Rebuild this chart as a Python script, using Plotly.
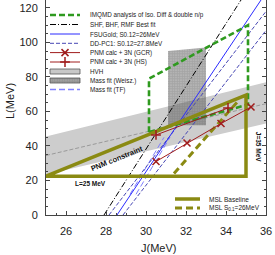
import plotly.graph_objects as go

# ---------------- data ----------------
hvh_J = [25, 36]
hvh_lo = [23.5, 53.0]
hvh_hi = [45.5, 77.0]
hvh_mid = [34.5, 64.5]

msl_base_J = [25, 35, 35, 25]
msl_base_L = [22.5, 22.5, 69.5, 22.5]

msl_26_J = [31.4, 34.6]
msl_26_L = [24.0, 66.0]

imqmd_J = [30.15, 30.15, 35.1, 35.1, 30.15]
imqmd_L = [48.0, 79.0, 110.0, 64.0, 48.0]

shf_J = [27.9, 34.75]
shf_L = [0.0, 124.6]

fsu_J = [28.55, 35.75]
fsu_L = [0.0, 124.6]

ddpc1_a_J = [28.15, 36.0]
ddpc1_a_L = [0.0, 118.0]
ddpc1_b_J = [28.85, 36.0]
ddpc1_b_L = [0.0, 107.0]

tf_a_J = [29.2, 30.9]
tf_a_L = [12.0, 45.0]
tf_b_J = [29.5, 31.2]
tf_b_L = [12.0, 45.0]

weisz_J = [31.1, 33.0, 33.0, 31.1, 31.1]
weisz_L = [52.0, 52.0, 97.0, 95.0, 52.0]

gcr_J = [30.5, 32.05, 33.75, 35.25]
gcr_L = [31.0, 41.7, 53.0, 62.6]

hs_J = [30.5, 34.1]
hs_L = [46.4, 62.0]

x_ticks = [26, 28, 30, 32, 34, 36]
y_ticks = [0, 20, 40, 60, 80, 100, 120]

legend_labels = [
    "IMQMD analysis of Iso. Diff & double n/p",
    "SHF, BHF, RMF Best fit",
    "FSUGold; S0.12=26MeV",
    "DD-PC1: S0.12=27.8MeV",
    "PNM calc + 3N (GCR)",
    "PNM calc + 3N (HS)",
    "HVH",
    "Mass fit (Weisz.)",
    "Mass fit (TF)",
]
legend2_labels = ["MSL Baseline", "MSL S<sub>0.1</sub>=26MeV"]

# ---------------- styles ----------------
OLIVE = "#8a8a12"
GREEN = "#2f9a1f"
RED = "#a01c1c"
BLUE = "#2b2bff"
DBLUE = "#4646b4"
LBLUE = "#8080ff"
GRAY = "#cdcdcd"
FONT = "Liberation Sans, Arial, sans-serif"
LEGFONT = dict(family=FONT, size=6.3, color="#222222")

W, H = 275, 255
ML, MR, MT, MB = 46, 9, 0, 40

fig = go.Figure()

def add(x, y, **kw):
    kw.setdefault("mode", "lines")
    kw.setdefault("hoverinfo", "skip")
    fig.add_trace(go.Scatter(x=x, y=y, showlegend=False, **kw))

# HVH band
add(hvh_J, hvh_lo, line=dict(width=0))
add(hvh_J, hvh_hi, line=dict(width=0), fill="tonexty", fillcolor=GRAY)
add(hvh_J, hvh_mid, line=dict(color="#8c8c8c", width=0.8, dash="4px,2px"))

# Mass fit (Weisz.) checkered box
add(weisz_J, weisz_L, line=dict(width=0), fill="toself",
    fillcolor="rgba(0,0,0,0)",
    fillpattern=dict(shape=".", size=2.5, solidity=0.85, fgcolor="#4a4a4a",
                     bgcolor="rgba(255,255,255,0)"))

# Mass fit (TF)
add(tf_a_J, tf_a_L, line=dict(color=LBLUE, width=1, dash="6px,3px"))
add(tf_b_J, tf_b_L, line=dict(color=LBLUE, width=1, dash="6px,3px"))

# DD-PC1
add(ddpc1_a_J, ddpc1_a_L, line=dict(color=DBLUE, width=1, dash="4px,2px"))
add(ddpc1_b_J, ddpc1_b_L, line=dict(color=DBLUE, width=1, dash="4px,2px"))

# FSUGold
add(fsu_J, fsu_L, line=dict(color=BLUE, width=1))

# SHF/BHF/RMF
add(shf_J, shf_L, line=dict(color="black", width=1, dash="6px,2px,1px,2px"))

# IMQMD
add(imqmd_J, imqmd_L, line=dict(color=GREEN, width=2.6, dash="6px,3px"))

# MSL
add(msl_base_J, msl_base_L, line=dict(color=OLIVE, width=3.5))
add(msl_26_J, msl_26_L, line=dict(color=OLIVE, width=3, dash="7px,4px"))

# PNM calc
add(gcr_J, gcr_L, mode="lines+markers", line=dict(color=RED, width=1),
    marker=dict(symbol="x-thin", size=7, line=dict(color=RED, width=1.5)))
add(hs_J, hs_L, mode="lines+markers", line=dict(color=RED, width=1),
    marker=dict(symbol="cross-thin", size=7, line=dict(color=RED, width=1.5)))

# ---------------- legend (pixel coordinates on overlay axes) ----------------
rows = [15, 24.5, 34, 43.3, 52.6, 62, 71.5, 80.5, 89.5]
sx0, sx1, tx = 50, 80, 88

def addpx(x, y, **kw):
    kw.setdefault("mode", "lines")
    fig.add_trace(go.Scatter(x=x, y=y, xaxis="x2", yaxis="y2",
                             showlegend=False, hoverinfo="skip", **kw))

addpx([sx0, sx1], [rows[0]] * 2, line=dict(color=GREEN, width=2.6, dash="6px,3px"))
addpx([sx0, sx1], [rows[1]] * 2, line=dict(color="black", width=1, dash="6px,2px,1px,2px"))
addpx([sx0, sx1], [rows[2]] * 2, line=dict(color=BLUE, width=1))
addpx([sx0, sx1], [rows[3]] * 2, line=dict(color=DBLUE, width=1, dash="4px,2px"))
addpx([sx0, sx1], [rows[4]] * 2, line=dict(color=RED, width=1))
addpx([(sx0 + sx1) / 2], [rows[4]], mode="markers",
      marker=dict(symbol="x-thin", size=7, line=dict(color=RED, width=1.5)))
addpx([sx0, sx1], [rows[5]] * 2, line=dict(color=RED, width=1))
addpx([(sx0 + sx1) / 2], [rows[5]], mode="markers",
      marker=dict(symbol="cross-thin", size=7, line=dict(color=RED, width=1.5)))
addpx([sx0, sx1, sx1, sx0, sx0], [rows[6] - 2.5, rows[6] - 2.5, rows[6] + 2.5,
      rows[6] + 2.5, rows[6] - 2.5], fill="toself", fillcolor="#c8c8c8",
      line=dict(color="#555555", width=0.8))
addpx([sx0, sx1, sx1, sx0, sx0], [rows[7] - 2.5, rows[7] - 2.5, rows[7] + 2.5,
      rows[7] + 2.5, rows[7] - 2.5], fill="toself", fillcolor="#dddddd",
      fillpattern=dict(shape=".", size=2.5, solidity=0.85, fgcolor="#4a4a4a"),
      line=dict(color="#555555", width=0.8))
addpx([sx0, sx1], [rows[8]] * 2, line=dict(color=LBLUE, width=1.3, dash="6px,3px"))

rows2 = [199, 208]
addpx([175, 200], [rows2[0]] * 2, line=dict(color=OLIVE, width=3.5))
addpx([175, 200], [rows2[1]] * 2, line=dict(color=OLIVE, width=3, dash="7px,4px"))

annotations = []
for r, t in zip(rows, legend_labels):
    annotations.append(dict(x=tx, y=r, xref="x2", yref="y2", text=t, showarrow=False,
                            xanchor="left", yanchor="middle", font=LEGFONT))
for r, t in zip(rows2, legend2_labels):
    annotations.append(dict(x=207, y=r, xref="x2", yref="y2", text=t, showarrow=False,
                            xanchor="left", yanchor="middle",
                            font=dict(family=FONT, size=6.5, color="#222222")))

# in-plot labels
annotations.append(dict(x=27.2, y=18.5, xref="x", yref="y", text="<b>L=25 MeV</b>",
                        showarrow=False, font=dict(family=FONT, size=6.5, color="#111111")))
annotations.append(dict(x=28.55, y=33.0, xref="x", yref="y", text="<b>PNM constraint</b>",
                        showarrow=False, textangle=-22,
                        font=dict(family=FONT, size=7.5, color="#111111")))
annotations.append(dict(x=35.6, y=39.5, xref="x", yref="y", text="<b>J=35 MeV</b>",
                        showarrow=False, textangle=90,
                        font=dict(family=FONT, size=6.5, color="#111111")))

# axis titles (positions in pixels converted to paper fractions)
annotations.append(dict(x=(158 - ML) / (W - ML - MR), y=(H - MB - 248) / (H - MT - MB),
                        xref="paper", yref="paper", text="J(MeV)", showarrow=False,
                        xanchor="center", yanchor="middle",
                        font=dict(family=FONT, size=11, color="#222222")))
annotations.append(dict(x=(10 - ML) / (W - ML - MR), y=(H - MB - 101) / (H - MT - MB),
                        xref="paper", yref="paper", text="L(MeV)", showarrow=False,
                        textangle=-90, xanchor="center", yanchor="middle",
                        font=dict(family=FONT, size=11, color="#222222")))

fig.update_layout(
    width=W, height=H,
    margin=dict(l=ML, r=MR, t=MT, b=MB, pad=0),
    paper_bgcolor="white", plot_bgcolor="white",
    font=dict(family=FONT, size=11, color="#222222"),
    showlegend=False,
    annotations=annotations,
    xaxis=dict(range=[25, 36], tickvals=x_ticks, ticks="inside", ticklen=4,
               tickcolor="#444", showline=True, linecolor="#444", linewidth=1,
               showgrid=False, zeroline=False, mirror=False,
               ticklabelstandoff=6,
               tickfont=dict(family=FONT, size=11, color="#222222"),
               minor=dict(dtick=0.5, ticks="inside", ticklen=2, tickcolor="#444")),
    yaxis=dict(range=[0, 124.6], tickvals=y_ticks, ticks="inside", ticklen=4,
               tickcolor="#444", showline=True, linecolor="#444", linewidth=1,
               showgrid=False, zeroline=False, mirror="ticks",
               ticklabelstandoff=5,
               tickfont=dict(family=FONT, size=11, color="#222222"),
               minor=dict(dtick=5, ticks="inside", ticklen=2, tickcolor="#444")),
    xaxis2=dict(range=[ML, W - MR], overlaying="x", visible=False, fixedrange=True),
    yaxis2=dict(range=[H - MB, MT], overlaying="y", visible=False, fixedrange=True),
)

fig.write_html("out.html", config={"displayModeBar": False},
               post_script="document.body.style.margin='0';")
